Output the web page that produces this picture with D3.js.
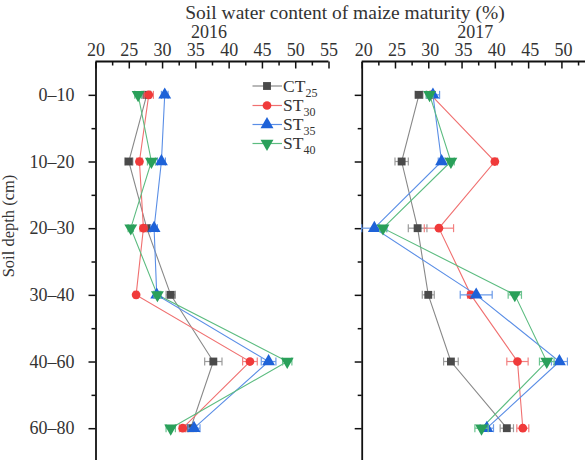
<!DOCTYPE html>
<html>
<head>
<meta charset="utf-8">
<script src="https://cdn.jsdelivr.net/npm/d3@7"></script>
<style>
  body { margin: 0; background: #fff; }
  text { font-family: "Liberation Serif", serif; fill: #333; }
</style>
</head>
<body>
<svg width="585" height="460"></svg>
<script>
// depth layers (y categories)
var depths = ["0\u201310", "10\u201320", "20\u201330", "30\u201340", "40\u201360", "60\u201380"];
var years = ["2016", "2017"];
var names = ["CT", "ST", "ST", "ST"];
var subs = ["25", "30", "35", "40"];

// soil water content (%), one value per depth
var ct25_2016 = [27.7, 25.0, 27.7, 31.3, 37.7, 34.3];
var st30_2016 = [28.0, 26.6, 27.2, 26.1, 43.2, 33.1];
var st35_2016 = [30.4, 29.9, 28.8, 29.2, 46.0, 34.8];
var st40_2016 = [26.4, 28.4, 25.3, 29.3, 48.8, 31.3];
var ct25_2017 = [28.6, 26.0, 28.4, 30.0, 33.4, 41.8];
var st30_2017 = [30.4, 40.0, 31.6, 36.4, 43.4, 44.2];
var st35_2017 = [30.7, 32.0, 21.9, 37.2, 49.7, 38.8];
var st40_2017 = [30.2, 33.4, 23.2, 43.0, 47.8, 38.0];

// standard errors
var ct25_2016_err = [0.6, 0.6, 0.5, 0.7, 1.3, 0.8];
var st30_2016_err = [0.7, 0.4, 0.5, 0.3, 1.1, 0.5];
var st35_2016_err = [0.5, 0.6, 0.5, 0.4, 1.1, 0.9];
var st40_2016_err = [0.5, 0.6, 0.4, 0.5, 0.7, 0.7];
var ct25_2017_err = [0.6, 1.0, 1.4, 0.9, 1.1, 1.0];
var st30_2017_err = [0.6, 0.4, 2.2, 0.5, 1.6, 0.9];
var st35_2017_err = [1.0, 0.5, 1.9, 2.4, 1.2, 1.0];
var st40_2017_err = [0.5, 0.5, 0.5, 1.0, 1.1, 1.0];

var xTicks = {
  "2016": [20, 25, 30, 35, 40, 45, 50, 55],
  "2017": [20, 25, 30, 35, 40, 45, 50]
};
var xMinor = [22.5, 27.5, 32.5, 37.5, 42.5, 47.5, 52.5];

var values = {
  "2016": [ct25_2016, st30_2016, st35_2016, st40_2016],
  "2017": [ct25_2017, st30_2017, st35_2017, st40_2017]
};
var errors = {
  "2016": [ct25_2016_err, st30_2016_err, st35_2016_err, st40_2016_err],
  "2017": [ct25_2017_err, st30_2017_err, st35_2017_err, st40_2017_err]
};

var markColor = ["#4a4a4a", "#f03a3a", "#1e62d8", "#2aa05a"];
var lineColor = ["#888888", "#f07070", "#5a8ee6", "#5cbc80"];
var errColor = ["#9a9a9a", "#f28080", "#6a9ae8", "#6cc490"];
var shapes = [d3.symbolSquare, d3.symbolCircle, d3.symbolTriangle, d3.symbolTriangle];
var sizes = [62, 60, 72, 72];

var svg = d3.select("svg");

var y = d3.scaleLinear([-0.5, 6.5], [61.5, 528.2]);
var xScales = {
  "2016": d3.scaleLinear([20, 55], [95.5, 328.5]),
  "2017": d3.scaleLinear([20, 55], [361.7, 594.7])
};

// title
svg.append("text")
  .attr("x", 345).attr("y", 19)
  .attr("text-anchor", "middle")
  .style("font-size", "19.5px")
  .text("Soil water content of maize maturity (%)");

svg.append("text")
  .attr("transform", "translate(14,226) rotate(-90)")
  .attr("text-anchor", "middle")
  .style("font-size", "16.5px")
  .text("Soil depth (cm)");

years.forEach(function (yr, p) {
  var x = xScales[yr];
  var g = svg.append("g");

  g.append("text")
    .attr("x", (x.range()[0] + x.range()[1]) / 2 - 3).attr("y", 37.5)
    .attr("text-anchor", "middle")
    .style("font-size", "18px")
    .text(yr);

  // top axis, ticks pointing inward
  var top = g.append("g").attr("transform", "translate(0,61.5)")
    .call(d3.axisTop(x).tickValues(xTicks[yr]).tickSize(-7).tickSizeOuter(0).tickPadding(5.5)
      .tickFormat(d3.format("d")));
  g.append("g").attr("transform", "translate(0,61.5)")
    .call(d3.axisTop(x).tickValues(xMinor).tickSize(-4).tickSizeOuter(0).tickFormat(""))
    .select(".domain").remove();
  top.select(".domain").attr("d", "M" + x.range()[0] + ",0H" + x.range()[1]);

  // left axis, ticks pointing outward
  g.append("g").attr("transform", "translate(" + x.range()[0] + ",0)")
    .call(d3.axisLeft(y).tickValues(d3.range(0, 6)).tickSize(7).tickSizeOuter(0).tickPadding(14)
      .tickFormat(function (d) { return p === 0 ? depths[d] : ""; }));
  g.append("g").attr("transform", "translate(" + x.range()[0] + ",0)")
    .call(d3.axisLeft(y).tickValues(d3.range(0.5, 6.5, 1)).tickSize(4).tickSizeOuter(0).tickFormat(""))
    .select(".domain").remove();

  g.selectAll(".domain").attr("stroke", "#111").attr("stroke-width", 1.8);
  g.selectAll(".tick line").attr("stroke", "#111").attr("stroke-width", 1.5);
  g.selectAll(".tick text").style("font-family", "Liberation Serif, serif")
    .style("font-size", "18px").attr("fill", "#333");
  if (p === 1) top.selectAll(".tick text").attr("dx", 1.5);

  var line = d3.line()
    .x(function (d) { return x(d); })
    .y(function (d, i) { return y(i); });

  values[yr].forEach(function (vals, s) {
    g.append("path")
      .attr("d", line(vals))
      .attr("fill", "none")
      .attr("stroke", lineColor[s])
      .attr("stroke-width", 1.1);
  });

  values[yr].forEach(function (vals, s) {
    var errs = errors[yr][s];
    var eg = g.append("g").attr("stroke", errColor[s]).attr("stroke-width", 1.2);
    vals.forEach(function (v, i) {
      var x0 = x(v - errs[i]), x1 = x(v + errs[i]), yy = y(i);
      eg.append("line").attr("x1", x0).attr("x2", x1).attr("y1", yy).attr("y2", yy);
      eg.append("line").attr("x1", x0).attr("x2", x0).attr("y1", yy - 4).attr("y2", yy + 4);
      eg.append("line").attr("x1", x1).attr("x2", x1).attr("y1", yy - 4).attr("y2", yy + 4);
    });
    g.selectAll(null).data(vals).enter().append("path")
      .attr("d", d3.symbol(shapes[s], sizes[s]))
      .attr("transform", function (d, i) {
        return "translate(" + x(d) + "," + y(i) + ")" + (s === 3 ? " rotate(180)" : "");
      })
      .attr("fill", markColor[s]);
  });
});

// legend
var legendY = [86, 105.5, 124.5, 143.5];
names.forEach(function (n, s) {
  var lg = svg.append("g").attr("transform", "translate(0," + legendY[s] + ")");
  lg.append("line").attr("x1", 252.5).attr("x2", 282).attr("stroke", lineColor[s]).attr("stroke-width", 1.2);
  lg.append("path").attr("d", d3.symbol(shapes[s], sizes[s]))
    .attr("transform", "translate(267,0)" + (s === 3 ? " rotate(180)" : ""))
    .attr("fill", markColor[s]);
  var t = lg.append("text").attr("x", 283).attr("y", 5.5).style("font-size", "17.5px");
  t.append("tspan").text(n);
  t.append("tspan").attr("dy", 5).style("font-size", "12px").text(subs[s]);
});
</script>
</body>
</html>
